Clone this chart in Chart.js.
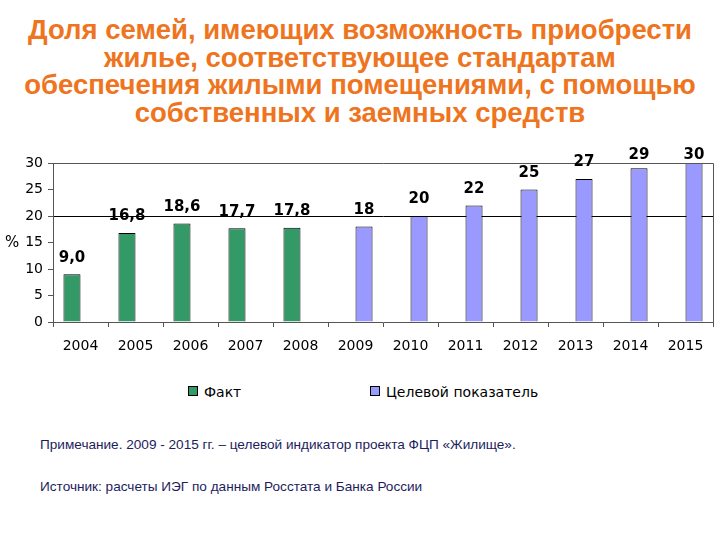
<!DOCTYPE html>
<html lang="ru">
<head>
<meta charset="utf-8">
<script src="https://cdn.jsdelivr.net/npm/chart.js@4"></script>
<style>
  body { margin: 0; width: 720px; height: 540px; background: #fff; position: relative; overflow: hidden; }
  #titulo { position: absolute; top: 16px; left: 0; width: 720px; text-align: center;
    font: bold 27.5px "Liberation Sans", Arial, sans-serif; line-height: 27.5px; color: #EE7420; }
  #caixa { position: absolute; left: 0; top: 130px; width: 720px; height: 235px; }
  #pct { position: absolute; left: 5px; top: 233px; font: 15px "DejaVu Sans", Verdana, sans-serif; }
  #legenda { position: absolute; top: 384px; left: 188px; font: 14px "DejaVu Sans", Verdana, sans-serif; }
  #legenda span.item { position: absolute; white-space: nowrap; }
  #legenda i { display: inline-block; width: 8px; height: 8px; border: 1px solid #000; margin-right: 6px; vertical-align: 1px; }
  .nota { position: absolute; left: 40px; font: 13.6px "Liberation Sans", Arial, sans-serif; color: #1d1d5c; }
</style>
</head>
<body>
<div id="titulo">Доля семей, имеющих возможность приобрести<br>жилье, соответствующее стандартам<br>обеспечения жилыми помещениями, с помощью<br>собственных и заемных средств</div>
<div id="caixa"><canvas id="grafico"></canvas></div>
<div id="pct">%</div>
<div id="legenda"></div>
<div class="nota" style="top:437px">Примечание. 2009 - 2015 гг. – целевой индикатор проекта ФЦП «Жилище».</div>
<div class="nota" style="top:479px">Источник: расчеты ИЭГ по данным Росстата и Банка России</div>
<script>
const anos = ['2004', '2005', '2006', '2007', '2008', '2009', '2010', '2011', '2012', '2013', '2014', '2015'];
const fato = [9.0, 16.8, 18.6, 17.7, 17.8, null, null, null, null, null, null, null];
const meta = [null, null, null, null, null, 18, 20, 22, 25, 27, 29, 30];
const rotuloFato = ['9,0', '16,8', '18,6', '17,7', '17,8'];
const rotuloMeta = ['18', '20', '22', '25', '27', '29', '30'];

const corFato = '#339966';
const corMeta = '#9999FF';

// rótulos em cima das barras + moldura da área do gráfico
const pluginRotulos = {
  id: 'rotulos',
  afterDatasetsDraw(chart) {
    const ctx = chart.ctx;
    const area = chart.chartArea;
    ctx.save();
    ctx.strokeStyle = '#555';
    ctx.lineWidth = 1;
    ctx.beginPath();
    ctx.moveTo(area.left, area.top + 0.5);
    ctx.lineTo(area.right + 0.5, area.top + 0.5);
    ctx.lineTo(area.right + 0.5, area.bottom);
    ctx.stroke();

    ctx.font = 'bold 15px "DejaVu Sans", Verdana, sans-serif';
    ctx.fillStyle = '#000';
    ctx.textAlign = 'center';
    ctx.textBaseline = 'bottom';
    chart.data.datasets.forEach((ds, i) => {
      const meta = chart.getDatasetMeta(i);
      let k = 0;
      meta.data.forEach((bar, j) => {
        if (ds.data[j] == null) return;
        // no topo o rótulo não passa da moldura
        const y = Math.max(bar.y - 9, area.top);
        ctx.fillText(ds.rotulos[k], bar.x, y);
        k++;
      });
    });
    ctx.restore();
  }
};

const grafico = new Chart(document.getElementById('grafico'), {
  type: 'bar',
  data: {
    labels: anos,
    datasets: [
      { label: 'Факт', data: fato, rotulos: rotuloFato, backgroundColor: corFato, borderColor: '#000', borderWidth: 1 },
      { label: 'Целевой показатель', data: meta, rotulos: rotuloMeta, backgroundColor: corMeta, borderColor: '#000', borderWidth: 1 },
    ],
  },
  options: {
    responsive: true,
    maintainAspectRatio: false,
    animation: false,
    datasets: { bar: { categoryPercentage: 0.62, barPercentage: 1.0 } },
    layout: { padding: { top: 33, right: 7, left: 0, bottom: 0 } },
    plugins: { legend: { display: false }, tooltip: { enabled: false } },
    scales: {
      x: {
        afterFit: s => { s.height = 43; },
        grid: { offset: true, drawOnChartArea: false, tickLength: 5, color: '#555' },
        border: { color: '#555' },
        ticks: { color: '#000', padding: 11, font: { family: '"DejaVu Sans", Verdana, sans-serif', size: 14 } },
      },
      y: {
        min: 0, max: 30,
        afterFit: s => { s.width = 53; },
        grid: {
          tickLength: 5,
          color: c => (c.tick && c.tick.value === 20 ? '#000' : 'rgba(0,0,0,0)'),
          tickColor: '#555',
        },
        border: { color: '#555' },
        ticks: { stepSize: 5, color: '#000', padding: 5, font: { family: '"DejaVu Sans", Verdana, sans-serif', size: 14 } },
      },
    },
  },
  plugins: [pluginRotulos],
});

// legenda em HTML, montada a partir dos datasets
const legenda = document.getElementById('legenda');
const posicoes = [0, 182];
grafico.data.datasets.forEach((ds, i) => {
  const item = document.createElement('span');
  item.className = 'item';
  item.style.left = posicoes[i] + 'px';
  item.innerHTML = `<i style="background:${ds.backgroundColor}"></i>${ds.label}`;
  legenda.appendChild(item);
});
</script>
</body>
</html>
